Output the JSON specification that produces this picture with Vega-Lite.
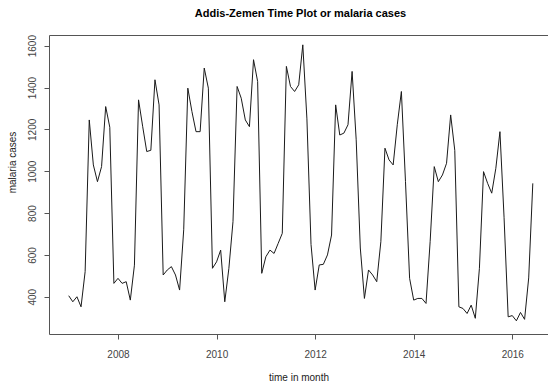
{
  "$schema": "https://vega.github.io/schema/vega-lite/v6.json",
  "width": 499,
  "height": 299,
  "autosize": {"type": "none"},
  "padding": {"left": 49, "top": 35, "right": 0, "bottom": 49},
  "background": "white",
  "config": {
    "view": {"stroke": null},
    "font": "Liberation Sans Narrow, Liberation Sans, Arial",
    "axisY": {
      "labelAngle": -90,
      "labelAlign": "center",
      "labelBaseline": "alphabetic",
      "labelPadding": 8.5,
      "labelFontSize": 10,
      "labelColor": "#444444",
      "tickSize": 5,
      "tickColor": "#555555",
      "domainColor": "#555555",
      "grid": false,
      "format": "d"
    }
  },
  "title": {
    "text": "Addis-Zemen Time Plot or malaria cases",
    "font": "Liberation Sans Narrow, Liberation Sans, Arial",
    "fontSize": 11,
    "fontWeight": "bold",
    "color": "#000000",
    "anchor": "middle",
    "frame": "group",
    "offset": 16,
    "dx": 2
  },
  "data": {
    "values": [
      {"t": 2007.0000, "cases": 405},
      {"t": 2007.0833, "cases": 376},
      {"t": 2007.1667, "cases": 400},
      {"t": 2007.2500, "cases": 352},
      {"t": 2007.3333, "cases": 520},
      {"t": 2007.4167, "cases": 1245},
      {"t": 2007.5000, "cases": 1030},
      {"t": 2007.5833, "cases": 950},
      {"t": 2007.6667, "cases": 1022},
      {"t": 2007.7500, "cases": 1309},
      {"t": 2007.8333, "cases": 1210},
      {"t": 2007.9167, "cases": 464},
      {"t": 2008.0000, "cases": 488},
      {"t": 2008.0833, "cases": 464},
      {"t": 2008.1667, "cases": 472},
      {"t": 2008.2500, "cases": 384},
      {"t": 2008.3333, "cases": 551},
      {"t": 2008.4167, "cases": 1341},
      {"t": 2008.5000, "cases": 1215},
      {"t": 2008.5833, "cases": 1094},
      {"t": 2008.6667, "cases": 1100},
      {"t": 2008.7500, "cases": 1437},
      {"t": 2008.8333, "cases": 1317},
      {"t": 2008.9167, "cases": 504},
      {"t": 2009.0000, "cases": 528},
      {"t": 2009.0833, "cases": 544},
      {"t": 2009.1667, "cases": 504},
      {"t": 2009.2500, "cases": 432},
      {"t": 2009.3333, "cases": 720},
      {"t": 2009.4167, "cases": 1397},
      {"t": 2009.5000, "cases": 1285},
      {"t": 2009.5833, "cases": 1189},
      {"t": 2009.6667, "cases": 1189},
      {"t": 2009.7500, "cases": 1493},
      {"t": 2009.8333, "cases": 1397},
      {"t": 2009.9167, "cases": 536},
      {"t": 2010.0000, "cases": 567},
      {"t": 2010.0833, "cases": 623},
      {"t": 2010.1667, "cases": 376},
      {"t": 2010.2500, "cases": 536},
      {"t": 2010.3333, "cases": 759},
      {"t": 2010.4167, "cases": 1405},
      {"t": 2010.5000, "cases": 1349},
      {"t": 2010.5833, "cases": 1245},
      {"t": 2010.6667, "cases": 1213},
      {"t": 2010.7500, "cases": 1533},
      {"t": 2010.8333, "cases": 1429},
      {"t": 2010.9167, "cases": 512},
      {"t": 2011.0000, "cases": 591},
      {"t": 2011.0833, "cases": 623},
      {"t": 2011.1667, "cases": 607},
      {"t": 2011.2500, "cases": 655},
      {"t": 2011.3333, "cases": 703},
      {"t": 2011.4167, "cases": 1501},
      {"t": 2011.5000, "cases": 1405},
      {"t": 2011.5833, "cases": 1381},
      {"t": 2011.6667, "cases": 1413},
      {"t": 2011.7500, "cases": 1604},
      {"t": 2011.8333, "cases": 1250},
      {"t": 2011.9167, "cases": 650},
      {"t": 2012.0000, "cases": 432},
      {"t": 2012.0833, "cases": 552},
      {"t": 2012.1667, "cases": 555},
      {"t": 2012.2500, "cases": 600},
      {"t": 2012.3333, "cases": 695},
      {"t": 2012.4167, "cases": 1317},
      {"t": 2012.5000, "cases": 1173},
      {"t": 2012.5833, "cases": 1182},
      {"t": 2012.6667, "cases": 1222},
      {"t": 2012.7500, "cases": 1477},
      {"t": 2012.8333, "cases": 1150},
      {"t": 2012.9167, "cases": 633},
      {"t": 2013.0000, "cases": 392},
      {"t": 2013.0833, "cases": 528},
      {"t": 2013.1667, "cases": 504},
      {"t": 2013.2500, "cases": 472},
      {"t": 2013.3333, "cases": 663},
      {"t": 2013.4167, "cases": 1110},
      {"t": 2013.5000, "cases": 1054},
      {"t": 2013.5833, "cases": 1030},
      {"t": 2013.6667, "cases": 1222},
      {"t": 2013.7500, "cases": 1381},
      {"t": 2013.8333, "cases": 950},
      {"t": 2013.9167, "cases": 488},
      {"t": 2014.0000, "cases": 384},
      {"t": 2014.0833, "cases": 392},
      {"t": 2014.1667, "cases": 392},
      {"t": 2014.2500, "cases": 368},
      {"t": 2014.3333, "cases": 663},
      {"t": 2014.4167, "cases": 1022},
      {"t": 2014.5000, "cases": 950},
      {"t": 2014.5833, "cases": 982},
      {"t": 2014.6667, "cases": 1038},
      {"t": 2014.7500, "cases": 1269},
      {"t": 2014.8333, "cases": 1100},
      {"t": 2014.9167, "cases": 352},
      {"t": 2015.0000, "cases": 344},
      {"t": 2015.0833, "cases": 320},
      {"t": 2015.1667, "cases": 360},
      {"t": 2015.2500, "cases": 297},
      {"t": 2015.3333, "cases": 536},
      {"t": 2015.4167, "cases": 998},
      {"t": 2015.5000, "cases": 942},
      {"t": 2015.5833, "cases": 895},
      {"t": 2015.6667, "cases": 1014},
      {"t": 2015.7500, "cases": 1189},
      {"t": 2015.8333, "cases": 780},
      {"t": 2015.9167, "cases": 304},
      {"t": 2016.0000, "cases": 310},
      {"t": 2016.0833, "cases": 285},
      {"t": 2016.1667, "cases": 325},
      {"t": 2016.2500, "cases": 292},
      {"t": 2016.3333, "cases": 490},
      {"t": 2016.4167, "cases": 942}
    ]
  },
  "layer": [
    {
      "mark": {"type": "line", "stroke": "#1a1a1a", "strokeWidth": 1},
      "encoding": {
        "x": {
          "field": "t",
          "type": "quantitative",
          "scale": {"domain": [2006.6, 2016.725], "nice": false, "zero": false},
          "axis": {
            "orient": "bottom",
            "values": [2008, 2010, 2012, 2014, 2016],
            "format": "d",
            "grid": false,
            "domain": true,
            "domainColor": "#555555",
            "tickColor": "#555555",
            "tickSize": 5,
            "labelFontSize": 10,
            "labelColor": "#444444",
            "labelBaseline": "alphabetic",
            "labelPadding": 18,
            "title": "time in month",
            "titleFontSize": 10,
            "titleFontWeight": "normal",
            "titleColor": "#222222",
            "titleBaseline": "alphabetic",
            "titleY": 46
          }
        },
        "y": {
          "field": "cases",
          "type": "quantitative",
          "scale": {"domain": [222, 1651], "nice": false, "zero": false},
          "axis": {
            "orient": "left",
            "values": [400, 600, 800, 1000, 1200, 1400, 1600],
            "format": "d",
            "domain": true,
            "labelAngle": -90,
            "labelAlign": "center",
            "labelBaseline": "alphabetic",
            "labelPadding": 8.5,
            "title": "malaria cases",
            "titleAngle": 270,
            "titleFontSize": 10,
            "titleFontWeight": "normal",
            "titleColor": "#222222",
            "titleAlign": "center",
            "titleBaseline": "middle",
            "titleX": -37,
            "titleY": 127
          }
        }
      }
    },
    {
      "mark": {"type": "line", "strokeOpacity": 0},
      "encoding": {
        "x": {
          "field": "t",
          "type": "quantitative",
          "axis": {
            "orient": "top",
            "grid": false,
            "domain": true,
            "domainColor": "#555555",
            "ticks": false,
            "labels": false,
            "title": null
          }
        },
        "y": {"field": "cases", "type": "quantitative"}
      }
    }
  ],
  "resolve": {"axis": {"x": "independent", "y": "shared"}}
}
